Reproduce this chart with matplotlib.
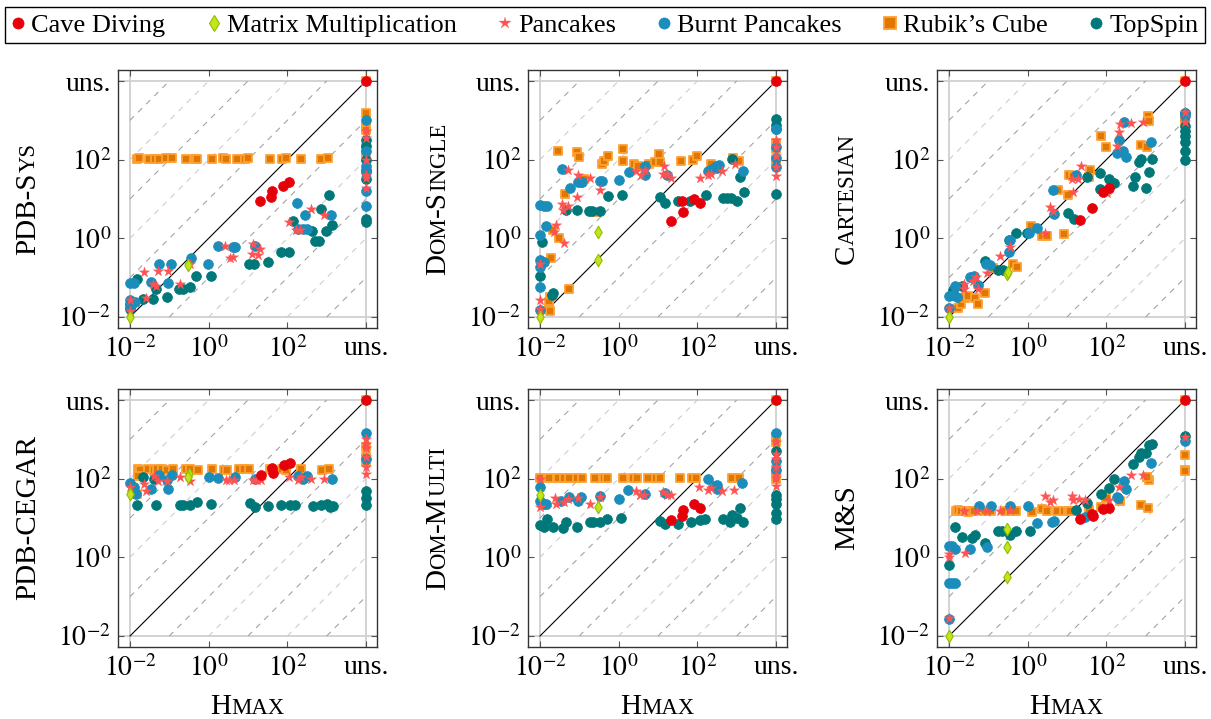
import numpy as np
import matplotlib
matplotlib.use("Agg")
import matplotlib.pyplot as plt
from matplotlib.lines import Line2D
from matplotlib.ticker import NullLocator

plt.rcParams['font.family'] = ['Liberation Serif', 'DejaVu Serif']
plt.rcParams['mathtext.fontset'] = 'stix'

# ---------------- data (log10 of runtime; 4 == "uns.") ----------------
SERIES = ['Cave Diving', 'Matrix Multiplication', 'Pancakes', 'Burnt Pancakes', 'Rubik’s Cube', 'TopSpin']
TICK_LOGS = [-2, 0, 2, 4]
TICK_LABELS = [r'$10^{-2}$', r'$10^{0}$', r'$10^{2}$', 'uns.']
XLABEL = 'Hmax'

# PDB-Sys
sys_cave = [(1.31, 0.94), (1.58, 1.06), (1.62, 1.21), (1.90, 1.34), (2.05, 1.42), (4, 4)]
sys_matrix = [(-2, -2), (-0.53, -0.68)]
sys_pancakes = [(-2, -1.56), (-2, -1.85), (-1.64, -0.85), (-1.28, -0.83), (-1.04, -0.83), (-1.42, -1.17),
                (-1.35, -1.21), (-1.59, -1.51), (-0.73, -1.17), (-0.47, -0.66), (0.42, -0.19), (0.54, -0.49),
                (0.63, -0.47), (1.14, -0.15), (1.31, -0.26), (1.11, -0.41), (1.25, -0.43), (2.03, 0.41),
                (2.22, 0.21), (2.32, 0.21), (2.59, 0.74), (2.92, 0.60), (4, 2.72), (4, 2.54), (4, 2.0),
                (4, 1.62), (4, 1.53), (4, 1.29)]
sys_burnt = [(-2, -1.13), (-1.89, -1.13), (-2, -1.57), (-2, -1.74), (-1.87, -1.63), (-1.25, -0.66),
             (-0.95, -0.64), (-1.47, -1.12), (-1.04, -1.13), (-0.45, -0.49), (-0.01, -0.66), (0.23, -0.20),
             (0.63, -0.21), (0.67, -0.21), (1.19, -0.20), (2.25, 0.91), (2.45, 0.59), (2.28, 0.23),
             (2.41, 0.23), (2.51, 0.23), (3.11, 0.60), (4, 3.0), (4, 2.21), (4, 1.85), (4, 1.68),
             (4, 1.21), (4, 0.83)]
sys_rubik = [(-1.81, 2.02), (-1.76, 2.03), (-1.52, 2.02), (-1.36, 2.02), (-1.25, 2.02), (-1.08, 2.03),
             (-0.92, 2.04), (-0.58, 2.01), (-0.35, 2.02), (-0.29, 2.01), (0.09, 2.02), (0.36, 2.03),
             (0.43, 2.02), (0.73, 2.02), (0.92, 2.02), (1.0, 2.03), (1.56, 2.02), (1.86, 2.01),
             (1.96, 2.03), (2.34, 2.02), (2.86, 2.01), (3.04, 2.03), (4, 3.19), (4, 2.83), (4, 2.76),
             (4, 2.30), (4, 2.23), (4, 2.07), (4, 4)]
sys_topspin = [(-2, -1.66), (-2, -1.79), (-1.81, -1.04), (-1.68, -1.53), (-1.42, -1.53), (-1.34, -1.30),
               (-1.07, -1.49), (-0.75, -1.29), (-0.66, -1.29), (-0.47, -1.25), (-0.31, -0.96), (0.05, -0.96),
               (1.03, -0.64), (1.16, -0.66), (1.5, -0.6), (1.83, -0.36), (2.05, -0.34), (2.14, 0.43),
               (2.64, 0.18), (2.70, -0.08), (2.81, -0.08), (2.85, 0.74), (2.98, 0.18), (3.05, 1.09),
               (3.14, 0.35), (4, 2.51), (4, 2.36), (4, 2.0), (4, 1.74), (4, 1.51), (4, 0.49), (4, 0.41)]

# Dom-Single
single_cave = [(1.34, 0.45), (1.64, 0.68), (1.61, 0.94), (1.92, 1.0), (2.08, 0.91), (4, 4)]
single_matrix = [(-2, -2), (-0.52, 0.17), (-0.52, -0.54)]
single_pancakes = [(-2, -0.64), (-2, -1.57), (-2, -1.79), (-1.6, 0.34), (-1.64, 0.17), (-1.39, -0.12),
                   (-1.43, 0.87), (-1.3, 0.81), (-1.41, 0.71), (-1.28, 1.73), (-1.03, 1.62), (-1.05, 1.06),
                   (-0.72, 1.53), (-0.47, 1.22), (0.43, 1.72), (0.57, 1.62), (0.68, 1.74), (1.15, 1.85),
                   (1.13, 1.63), (1.24, 1.64), (1.34, 1.53), (2.07, 1.53), (2.26, 1.62), (2.35, 1.63),
                   (2.62, 1.70), (2.96, 1.9), (4, 2.49), (4, 2.32), (4, 2.09), (4, 1.81), (4, 1.59)]
single_burnt = [(-2, 0.85), (-2, 0.09), (-2, -0.55), (-2, -0.72), (-2, -1.23), (-2, -1.83), (-1.9, 0.83),
                (-1.81, 0.81), (-1.84, 0.32), (-1.91, -0.6), (-1.45, 1.76), (-1.23, 1.29), (-1.03, 1.44),
                (-0.96, 1.44), (-0.92, 1.44), (-0.47, 1.47), (-0.42, 1.45), (0.02, 1.49), (0.26, 1.69),
                (0.66, 1.85), (0.68, 1.62), (1.24, 1.62), (2.28, 1.70), (2.38, 1.76), (2.47, 1.85),
                (2.49, 1.80), (2.54, 1.87), (3.15, 1.70), (4, 2.32), (4, 2.78), (4, 1.81), (4, 2.05)]
single_rubik = [(-1.53, 2.21), (-1.06, 2.20), (-1.02, 2.06), (-0.89, 1.51), (-1.36, 1.12), (-0.57, 0.66),
                (-1.66, 0.20), (-1.51, 0.0), (-1.71, -0.49), (-1.26, -1.28), (-1.74, -1.49), (-1.78, -1.62),
                (-1.78, -1.79), (-1.74, -1.85), (-0.42, 1.89), (-0.37, 1.97), (-0.28, 2.09), (0.11, 2.28),
                (0.11, 1.97), (0.38, 1.89), (0.49, 1.83), (0.76, 1.89), (0.93, 1.94), (1.06, 1.94),
                (1.02, 2.14), (1.58, 1.96), (1.88, 1.99), (1.98, 2.09), (2.36, 1.89), (2.9, 2.03),
                (3.07, 1.97), (4, 2.43), (4, 2.26), (4, 2.0), (4, 1.96), (4, 4)]
single_topspin = [(-2, -0.96), (-1.94, -0.09), (-1.66, -1.39), (-1.70, -1.43), (-1.33, 0.71), (-1.05, 0.72),
                  (-0.75, 0.70), (-0.68, 0.70), (-0.47, 0.70), (-0.28, 1.08), (0.08, 1.11), (1.06, 1.06),
                  (1.19, 0.89), (1.51, 0.94), (1.81, 0.94), (2.21, 1.11), (2.66, 1.02), (2.75, 1.02),
                  (2.85, 1.02), (2.88, 2.02), (3.02, 0.96), (3.09, 1.57), (3.19, 1.17), (4, 3.04),
                  (4, 2.88), (4, 2.79), (4, 1.13)]

# Cartesian
cart_cave = [(1.32, 0.47), (1.64, 0.78), (1.92, 1.17), (2.06, 1.28), (4, 4)]
cart_matrix = [(-2, -2), (-0.53, -0.91), (-0.51, -0.85)]
cart_pancakes = [(-2, -1.76), (-1.61, -1.15), (-1.63, -1.30), (-1.40, -1.08), (-1.31, -0.99), (-1.27, -1.29),
                 (-1.04, -0.89), (-0.71, -0.46), (-0.46, -0.21), (0.45, 0.13), (0.58, 0.80), (0.65, 0.69),
                 (1.16, 1.18), (1.13, 1.52), (1.28, 1.50), (1.35, 1.84), (2.01, 1.14), (2.26, 2.35),
                 (2.33, 2.70), (2.35, 2.91), (2.62, 2.93), (2.94, 2.97), (4, 3.20), (4, 2.97)]
cart_burnt = [(-2, -1.76), (-2, -1.46), (-1.91, -1.43), (-1.85, -1.21), (-1.79, -1.49), (-1.46, -0.99),
              (-1.36, -0.95), (-1.25, -1.18), (-1.06, -0.65), (-0.95, -0.67), (-0.47, -0.35), (-0.46, -0.05),
              (0.03, 0.13), (0.24, 0.27), (0.65, 1.24), (0.68, 0.61), (1.22, 1.61), (2.32, 2.51),
              (2.45, 2.97), (2.26, 2.18), (2.43, 2.21), (2.51, 2.08), (3.13, 2.46), (4, 3.19), (4, 3.10)]
cart_rubik = [(-1.76, -1.76), (-1.69, -1.67), (-1.59, -1.52), (-1.52, -1.46), (-1.35, -1.51), (-1.25, -1.66),
              (-1.08, -1.40), (-0.89, -0.75), (-0.37, -0.65), (-0.27, -0.72), (0.09, 0.31), (0.37, 0.05),
              (0.48, 0.05), (0.92, 0.10), (0.77, 1.23), (1.02, 1.11), (1.05, 1.61), (1.16, 1.58),
              (1.57, 1.57), (1.58, 1.75), (1.87, 2.61), (1.98, 2.32), (2.88, 2.38), (3.03, 2.33),
              (3.05, 3.10), (3.09, 2.99), (4, 3.06), (4, 2.97), (4, 4)]
cart_topspin = [(-1.91, -1.32), (-1.68, -1.21), (-1.95, -1.45), (-1.08, -0.57), (-0.76, -0.81), (-0.63, -0.81),
                (-0.47, -0.04), (-0.29, 0.13), (-0.02, 0.13), (1.02, 0.65), (1.17, 0.50), (1.51, 1.55),
                (1.84, 1.25), (1.85, 1.65), (2.07, 1.50), (2.2, 1.41), (2.68, 1.33), (2.72, 1.57),
                (2.83, 1.95), (2.88, 2.01), (3.00, 1.28), (3.09, 1.69), (3.17, 2.02), (4, 3.19),
                (4, 2.85), (4, 2.72), (4, 2.59), (4, 2.46), (4, 2.21), (4, 1.99)]

# PDB-CEGAR
cegar_cave = [(1.32, 2.10), (1.62, 2.28), (1.64, 2.15), (1.91, 2.34), (2.07, 2.40), (4, 4)]
cegar_matrix = [(-2, 1.60), (-0.51, 2.13), (-0.53, 2.04)]
cegar_pancakes = [(-2, 1.79), (-1.64, 1.86), (-1.59, 1.69), (-1.40, 2.06), (-1.28, 1.94), (-1.06, 1.94),
                  (-0.72, 2.04), (-0.47, 1.94), (0.43, 1.96), (0.51, 1.96), (0.64, 1.96), (1.13, 1.96),
                  (1.23, 1.96), (1.32, 1.96), (2.04, 2.03), (2.26, 1.97), (2.34, 2.03), (2.61, 2.0),
                  (2.94, 2.0), (4, 3.02), (4, 2.89), (4, 2.77), (4, 2.55), (4, 2.30), (4, 2.13)]
cegar_burnt = [(-2, 1.89), (-1.91, 1.79), (-1.85, 1.62), (-1.46, 1.73), (-1.25, 2.09), (-1.06, 1.96),
               (-1.04, 1.74), (-0.94, 2.09), (0.0, 2.04), (0.24, 2.02), (0.66, 2.04), (1.19, 2.0),
               (2.26, 2.06), (2.41, 2.0), (2.51, 2.06), (3.13, 2.0), (4, 3.15), (4, 2.49)]
cegar_rubik = [(-1.79, 2.24), (-1.74, 2.22), (-1.53, 2.25), (-1.40, 2.23), (-1.32, 2.24), (-1.19, 2.24),
               (-1.06, 2.23), (-0.91, 2.24), (-0.57, 2.25), (-0.47, 2.24), (-0.28, 2.23), (0.09, 2.25),
               (0.38, 2.23), (0.47, 2.22), (0.77, 2.24), (0.89, 2.24), (1.02, 2.24), (1.57, 2.25),
               (1.87, 2.24), (1.96, 2.22), (2.34, 2.24), (2.89, 2.23), (3.06, 2.24), (-1.79, 2.06),
               (-1.81, 1.60), (4, 2.81), (4, 2.55), (4, 2.43), (4, 4)]
cegar_topspin = [(-1.66, 2.03), (-1.40, 2.0), (-1.81, 1.34), (-1.34, 1.32), (-0.74, 1.34), (-0.66, 1.32),
                 (-0.47, 1.34), (-0.30, 1.40), (0.06, 1.36), (1.05, 1.38), (1.17, 1.29), (1.51, 1.30),
                 (1.85, 1.34), (2.07, 1.34), (2.19, 1.32), (2.66, 1.30), (2.85, 1.32), (3.0, 1.36),
                 (3.09, 1.29), (3.17, 1.30), (4, 1.69), (4, 1.51), (4, 1.32)]

# Dom-Multi
multi_cave = [(1.32, 0.95), (1.60, 1.06), (1.63, 1.20), (1.91, 1.35), (2.06, 1.25), (4, 4)]
multi_matrix = [(-2, 1.59), (-0.53, 1.27)]
multi_pancakes = [(-2, 1.99), (-2, 1.27), (-1.63, 1.51), (-1.60, 1.35), (-1.40, 1.41), (-1.29, 1.48),
                  (-1.04, 1.51), (-0.72, 1.35), (-0.47, 1.53), (0.44, 1.68), (0.55, 1.59), (0.64, 1.59),
                  (1.13, 1.67), (1.23, 1.59), (1.32, 1.59), (2.04, 1.78), (2.26, 1.70), (2.34, 1.76),
                  (2.62, 1.68), (2.94, 1.72), (4, 2.93), (4, 2.63), (4, 2.51), (4, 2.29), (4, 2.10),
                  (4, 2.01), (4, 1.82)]
multi_burnt = [(-2, 1.78), (-2, 1.44), (-1.91, 1.35), (-1.86, 1.35), (-1.47, 1.44), (-1.26, 1.53),
               (-1.04, 1.42), (-0.95, 1.54), (-0.47, 1.57), (0.0, 1.48), (0.24, 1.70), (0.66, 1.61),
               (1.19, 1.63), (2.27, 1.98), (2.43, 1.82), (2.49, 1.74), (2.51, 1.85), (3.13, 1.88),
               (4, 3.15), (4, 2.46), (4, 2.21)]
multi_rubik = [(-2.0, 2.01), (-1.77, 2.01), (-1.55, 2.01), (-1.38, 2.01), (-1.26, 2.01), (-1.06, 2.01),
               (-0.92, 2.01), (-0.60, 2.01), (-0.38, 2.01), (-0.30, 2.01), (0.10, 2.01), (0.36, 2.01),
               (0.47, 2.01), (0.75, 2.01), (0.94, 2.01), (1.04, 2.01), (1.57, 2.01), (1.87, 2.01),
               (1.96, 2.01), (2.87, 2.01), (3.06, 2.01), (4, 3.06), (4, 2.93), (4, 2.21), (4, 1.99), (4, 4)]
multi_topspin = [(-2, 0.82), (-1.89, 0.76), (-1.83, 0.97), (-1.68, 0.76), (-1.42, 0.74), (-1.34, 0.90),
                 (-1.06, 0.77), (-0.74, 0.91), (-0.66, 0.91), (-0.47, 0.90), (-0.30, 0.97), (0.07, 1.01),
                 (1.05, 0.93), (1.17, 0.86), (1.51, 0.86), (1.85, 0.89), (2.06, 0.95), (2.19, 0.97),
                 (2.66, 0.97), (2.83, 0.91), (2.88, 1.08), (3.0, 1.01), (3.08, 1.25), (3.17, 0.89),
                 (4, 2.70), (4, 1.59), (4, 1.48), (4, 1.35), (4, 1.12), (4, 0.97)]

# M&S
ms_cave = [(1.33, 0.98), (1.63, 1.11), (1.65, 1.05), (1.92, 1.22), (2.07, 1.26), (4, 4)]
ms_matrix = [(-2, -2), (-0.53, 0.72), (-0.53, 0.26), (-0.53, -0.49)]
ms_pancakes = [(-2, 0.09), (-2, 0.0), (-2, -1.53), (-1.59, 0.10), (-1.63, 1.17), (-1.29, 1.17), (-1.04, 1.17),
               (-0.71, 1.17), (-0.44, 1.21), (0.43, 1.56), (0.56, 1.40), (0.65, 1.45), (1.13, 1.57),
               (1.16, 1.46), (1.30, 1.49), (1.45, 1.47), (2.07, 1.47), (2.31, 1.79), (2.62, 2.09),
               (2.94, 2.09), (4, 3.05)]
ms_burnt = [(-2, 0.28), (-1.93, 0.28), (-1.85, 0.21), (-2, -0.66), (-1.93, -0.66), (-1.85, -0.66), (-2, -1.56),
            (-1.46, 0.21), (-1.23, 1.30), (-0.94, 1.30), (-1.04, 0.26), (-0.44, 1.30), (0.01, 1.30),
            (0.24, 0.88), (0.62, 0.89), (0.66, 0.92), (1.47, 1.02), (2.26, 1.53), (2.45, 1.93),
            (2.49, 1.74), (2.30, 1.51), (3.13, 2.40), (4, 2.96)]
ms_rubik = [(-1.82, 1.17), (-1.76, 1.20), (-1.69, 1.17), (-1.59, 1.17), (-1.51, 1.15), (-1.42, 1.17),
            (-1.36, 1.17), (-1.08, 1.17), (-0.93, 1.17), (-0.57, 1.17), (-0.44, 1.17), (-0.30, 1.17),
            (0.11, 1.15), (0.37, 1.22), (0.48, 1.17), (0.75, 1.17), (0.92, 1.17), (1.02, 1.17),
            (1.07, 1.19), (1.56, 1.20), (1.86, 1.28), (1.98, 1.51), (2.35, 1.43), (2.89, 1.34),
            (3.05, 1.26), (3.09, 1.97), (3.03, 2.03), (4, 2.60), (4, 2.23), (4, 2.20), (4, 4)]
ms_topspin = [(-2, -0.19), (-1.85, 0.77), (-1.68, 0.51), (-1.42, 0.49), (-1.34, 0.57), (-1.08, 0.37),
              (-0.76, 0.66), (-0.66, 0.66), (-0.46, 0.58), (-0.29, 0.66), (0.07, 0.68), (1.22, 1.21),
              (1.51, 1.38), (1.86, 1.62), (2.07, 1.77), (2.2, 1.98), (2.69, 2.38), (2.83, 2.54),
              (2.88, 2.66), (3.0, 2.66), (3.09, 2.85), (3.17, 2.89), (4, 3.08)]

# ---------------- layout tables built from the data ----------------
PANELS = [
    ([('PDB-S', 0), ('YS', 1)], [sys_cave, sys_matrix, sys_pancakes, sys_burnt, sys_rubik, sys_topspin]),
    ([('D', 0), ('OM', 1), ('-S', 0), ('INGLE', 1)],
     [single_cave, single_matrix, single_pancakes, single_burnt, single_rubik, single_topspin]),
    ([('C', 0), ('ARTESIAN', 1)], [cart_cave, cart_matrix, cart_pancakes, cart_burnt, cart_rubik, cart_topspin]),
    ([('PDB-CEGAR', 0)], [cegar_cave, cegar_matrix, cegar_pancakes, cegar_burnt, cegar_rubik, cegar_topspin]),
    ([('D', 0), ('OM', 1), ('-M', 0), ('ULTI', 1)],
     [multi_cave, multi_matrix, multi_pancakes, multi_burnt, multi_rubik, multi_topspin]),
    ([('M&S', 0)], [ms_cave, ms_matrix, ms_pancakes, ms_burnt, ms_rubik, ms_topspin]),
]
XLABEL_PIECES = [('H', 0), ('MAX', 1)]

STYLES = [
    dict(marker='o', s=50, facecolor='#e5000a', edgecolor='#e5000a', linewidths=0.5, zorder=7),
    dict(marker='d', s=40, facecolor='#c6e41c', edgecolor='#8cbf00', linewidths=0.8, zorder=8),
    dict(marker='*', s=62, facecolor='#ff5252', edgecolor='#ff5252', linewidths=0.2, zorder=6),
    dict(marker='o', s=50, facecolor='#1b8dbb', edgecolor='#1b8dbb', linewidths=0.5, zorder=5),
    dict(marker='s', s=40, facecolor='#e07700', edgecolor='#ffa033', linewidths=1.3, zorder=3),
    dict(marker='o', s=50, facecolor='#00787a', edgecolor='#00787a', linewidths=0.5, zorder=4),
]

W, H = 1211, 719
fig = plt.figure(figsize=(W / 100, H / 100), dpi=100)
COL_LEFT = [118, 528, 937]
ROW_TOP = [70, 389]
AW, AH = 259, 258
FS = 19      # legend
LFS = 21     # axis labels
TFS = 20     # tick labels
SMALL = 0.78

renderer = fig.canvas.get_renderer()


def sc_text(pieces, x_px, y_px, rotation=0, size=LFS):
    widths = []
    for s, small in pieces:
        t = fig.text(0, 0, s, fontsize=size * (SMALL if small else 1))
        widths.append(t.get_window_extent(renderer).width)
        t.remove()
    total = sum(widths)
    if rotation == 0:
        x = x_px - total / 2
        for (s, small), w in zip(pieces, widths):
            fig.text(x / W, 1 - y_px / H, s, fontsize=size * (SMALL if small else 1),
                     ha='left', va='baseline')
            x += w
    else:
        y = (H - y_px) - total / 2
        for (s, small), w in zip(pieces, widths):
            fig.text(x_px / W, y / H, s, fontsize=size * (SMALL if small else 1), rotation=90,
                     rotation_mode='anchor', ha='left', va='baseline')
            y += w


lo, hi = -2, 4
for idx, (ylab, data) in enumerate(PANELS):
    r, c = divmod(idx, 3)
    l, t = COL_LEFT[c], ROW_TOP[r]
    ax = fig.add_axes([l / W, 1 - (t + AH) / H, AW / W, AH / H])
    ax.set_xscale('log')
    ax.set_yscale('log')
    ax.set_xlim(10 ** -2.305, 10 ** 4.28)
    ax.set_ylim(10 ** -2.28, 10 ** 4.28)

    # reference lines
    for v in (10.0 ** lo, 10.0 ** hi):
        ax.axvline(v, color='#d0d0d0', lw=1.3, zorder=1)
        ax.axhline(v, color='#d0d0d0', lw=1.3, zorder=1)
    for k in range(1, 6):
        col = '#9e9e9e' if k % 2 == 1 else '#cbcbcb'
        ax.plot([10.0 ** lo, 10.0 ** (hi - k)], [10.0 ** (lo + k), 10.0 ** hi], color=col, lw=0.75,
                dashes=(5.5, 5.5), zorder=1.5)
        ax.plot([10.0 ** (lo + k), 10.0 ** hi], [10.0 ** lo, 10.0 ** (hi - k)], color=col, lw=0.75,
                dashes=(5.5, 5.5), zorder=1.5)
    ax.plot([10.0 ** lo, 10.0 ** hi], [10.0 ** lo, 10.0 ** hi], color='black', lw=0.8, zorder=2)

    for pts, st in zip(data, STYLES):
        a = np.array(pts, dtype=float)
        ax.scatter(10 ** a[:, 0], 10 ** a[:, 1], clip_on=False, **st)

    ticks = [10.0 ** v for v in TICK_LOGS]
    ax.set_xticks(ticks)
    ax.set_yticks(ticks)
    ax.set_xticklabels(TICK_LABELS)
    ax.set_yticklabels(TICK_LABELS)
    ax.xaxis.set_minor_locator(NullLocator())
    ax.yaxis.set_minor_locator(NullLocator())
    ax.tick_params(direction='in', length=4.5, width=0.8, color='#555555', top=True, right=True,
                   labelsize=TFS)
    ax.tick_params(axis='x', pad=6)
    ax.tick_params(axis='y', pad=5)
    for sp in ax.spines.values():
        sp.set_color('#333333')
        sp.set_linewidth(1.0)

    sc_text(ylab, l - 83, t + AH / 2, rotation=90)
    if r == 1:
        sc_text(XLABEL_PIECES, l + AW / 2, 714, rotation=0)

handles = [Line2D([], [], linestyle='none', marker=st['marker'], markersize=8 if st['marker'] != '*' else 9,
                  markerfacecolor=st['facecolor'], markeredgecolor=st['edgecolor'],
                  markeredgewidth=st['linewidths']) for st in STYLES]
leg = fig.legend(handles, SERIES, loc='center', bbox_to_anchor=(5 / W, 1 - 45 / H, 1200 / W, 40 / H),
                 mode='expand', ncol=6, fontsize=FS, frameon=True, fancybox=False, edgecolor='black',
                 handlelength=0.5, handletextpad=0.25, borderaxespad=0, borderpad=0.25, framealpha=1)
leg.get_frame().set_linewidth(1.0)

fig.savefig('out.png', dpi=100)
